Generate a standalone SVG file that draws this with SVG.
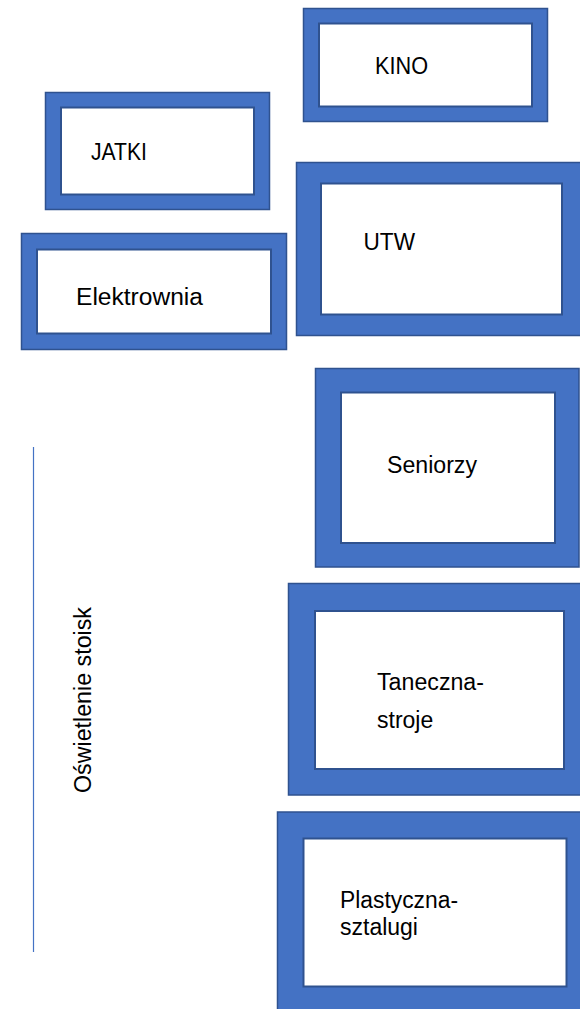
<svg xmlns="http://www.w3.org/2000/svg" width="580" height="1009" viewBox="0 0 580 1009">
<style>
.outer{fill:#4472C4;stroke:#2F528F;stroke-width:1.5}
.inner{fill:#FFFFFF;stroke:#2F528F;stroke-width:2}
.lbl{font-family:"Liberation Sans",Arial,sans-serif;font-size:23px;fill:#000000}
</style>
<rect width="580" height="1009" fill="#FFFFFF"/>
<g id="connectors">
<line x1="33.5" y1="447" x2="33.5" y2="952" stroke="#4472C4" stroke-width="1.2"/>
</g>
<g id="kino">
<rect class="outer" x="303.5" y="8.5" width="244" height="113"/>
<rect class="inner" x="319" y="23.5" width="213" height="83"/>
<text class="lbl" x="375" y="74" textLength="53" lengthAdjust="spacingAndGlyphs">KINO</text>
</g>
<g id="jatki">
<rect class="outer" x="45.5" y="92.5" width="224" height="117"/>
<rect class="inner" x="61" y="107.5" width="193" height="87"/>
<text class="lbl" x="91" y="160" textLength="56" lengthAdjust="spacingAndGlyphs">JATKI</text>
</g>
<g id="elektrownia">
<rect class="outer" x="21.5" y="233.5" width="265" height="116"/>
<rect class="inner" x="37" y="249.5" width="234" height="84"/>
<text class="lbl" x="76" y="305" textLength="127" lengthAdjust="spacingAndGlyphs">Elektrownia</text>
</g>
<g id="utw">
<rect class="outer" x="296.5" y="162.5" width="294" height="173"/>
<rect class="inner" x="321" y="183.5" width="241" height="131"/>
<text class="lbl" x="363.5" y="249.5" textLength="51.5" lengthAdjust="spacingAndGlyphs">UTW</text>
</g>
<g id="seniorzy">
<rect class="outer" x="315.5" y="368.5" width="263.5" height="198.5"/>
<rect class="inner" x="341" y="392.5" width="214" height="150.5"/>
<text class="lbl" x="387" y="473" textLength="90" lengthAdjust="spacingAndGlyphs">Seniorzy</text>
</g>
<g id="taneczna">
<rect class="outer" x="288.5" y="583.5" width="302" height="211.5"/>
<rect class="inner" x="315" y="611" width="249" height="158"/>
<text class="lbl" x="377" y="690" textLength="107" lengthAdjust="spacingAndGlyphs">Taneczna-</text>
<text class="lbl" x="377" y="728">stroje</text>
</g>
<g id="plastyczna">
<rect class="outer" x="277.5" y="812" width="313" height="205"/>
<rect class="inner" x="303.5" y="838.5" width="263" height="148"/>
<text class="lbl" x="340" y="908" textLength="118" lengthAdjust="spacingAndGlyphs">Plastyczna-</text>
<text class="lbl" x="340" y="935">sztalugi</text>
</g>
<g id="oswietlenie">
<text class="lbl" transform="translate(91,793) rotate(-90)" textLength="186" lengthAdjust="spacingAndGlyphs">Oświetlenie stoisk</text>
</g>
</svg>
